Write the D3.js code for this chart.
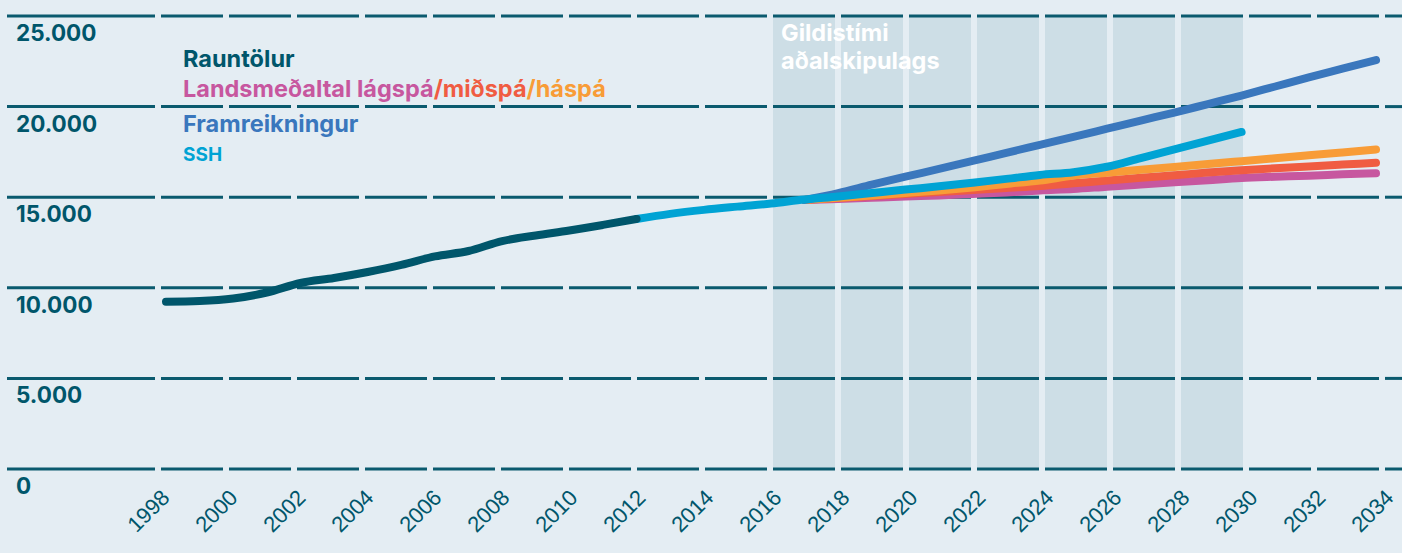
<!DOCTYPE html>
<html>
<head>
<meta charset="utf-8">
<script src="https://cdn.jsdelivr.net/npm/d3@7"></script>
<style>
  body { margin: 0; background: #e4edf3; }
  svg { display: block; }
</style>
</head>
<body>
<div id="container"></div>
<script>
/* CONSTANTS AND GLOBALS */
const width = 1402;
const height = 553;

// Rauntölur (actual figures)
const rauntolurYears = [1998, 1999, 2000, 2001, 2002, 2003, 2004, 2005, 2006, 2007, 2008, 2009, 2010, 2011, 2012];
const rauntolur = [9230, 9270, 9410, 9740, 10265, 10540, 10870, 11260, 11730, 12030, 12580, 12890, 13160, 13470, 13800];

// SSH
const sshYears = [2012, 2013, 2014, 2015, 2016, 2017, 2018, 2019, 2020, 2021, 2022, 2023, 2024, 2025, 2026, 2027, 2028, 2029, 2030];
const ssh = [13800, 14080, 14300, 14480, 14650, 14870, 15040, 15230, 15420, 15600, 15800, 16010, 16230, 16380, 16680, 17160, 17640, 18120, 18600];

// projections
const projYears = [2017, 2018, 2019, 2020, 2021, 2022, 2023, 2024, 2025, 2026, 2027, 2028, 2029, 2030, 2031, 2032, 2033, 2034];
const framreikningur = [14850, 15230, 15690, 16130, 16560, 17000, 17450, 17890, 18330, 18780, 19230, 19670, 20140, 20610, 21110, 21610, 22090, 22570];
const haspa = [14850, 14970, 15100, 15230, 15370, 15540, 15730, 15920, 16190, 16350, 16510, 16670, 16830, 16990, 17150, 17310, 17470, 17630];
const midspa = [14850, 14960, 15070, 15180, 15290, 15400, 15510, 15620, 15770, 15920, 16070, 16210, 16360, 16490, 16600, 16700, 16800, 16900];
const lagspa = [14850, 14900, 14970, 15040, 15100, 15180, 15260, 15370, 15450, 15580, 15700, 15820, 15940, 16060, 16130, 16190, 16260, 16320];

const yTicks = [0, 5000, 10000, 15000, 20000, 25000];
const xTicks = [1998, 2000, 2002, 2004, 2006, 2008, 2010, 2012, 2014, 2016, 2018, 2020, 2022, 2024, 2026, 2028, 2030, 2032, 2034];
const shadeStarts = [2016, 2018, 2020, 2022, 2024, 2026, 2028];

const teal = "#0a5a6e";
const fontBold = "Inter, 'Liberation Sans', sans-serif";

const locale = d3.formatLocale({ decimal: ",", thousands: ".", grouping: [3], currency: ["", ""] });
const fmt = locale.format(",");

const svg = d3.select("#container")
  .append("svg")
  .attr("width", width)
  .attr("height", height);

svg.append("rect")
  .attr("width", width)
  .attr("height", height)
  .attr("fill", "#e4edf3");

// SCALES
const x = d3.scaleLinear().domain([1998, 2034]).range([166, 1376]);
const xg = d3.scaleLinear().domain([1998, 2034]).range([158, 1382]);   // grid / tick positions
const y = d3.scaleLinear().domain([0, 25000]).range([469, 16]);

// shaded period of the master plan
svg.append("g")
  .selectAll("rect")
  .data(shadeStarts)
  .join("rect")
  .attr("x", d => xg(d) + 3)
  .attr("width", d => xg(d + 2) - xg(d) - 6)
  .attr("y", y(25000))
  .attr("height", y(0) - y(25000))
  .attr("fill", "#cddee6");

// dashed gridlines, gaps at every tick
const bounds = [7].concat(xTicks.map(xg)).concat([width + 3]);
const segs = [];
yTicks.forEach(t => {
  for (let i = 0; i < bounds.length - 1; i++) {
    segs.push({ t: t, x1: i === 0 ? bounds[0] : bounds[i] + 3, x2: bounds[i + 1] - 3 });
  }
});
svg.append("g")
  .selectAll("line")
  .data(segs)
  .join("line")
  .attr("x1", d => d.x1)
  .attr("x2", d => d.x2)
  .attr("y1", d => y(d.t))
  .attr("y2", d => y(d.t))
  .attr("stroke", teal)
  .attr("stroke-width", 3);

// y labels
svg.append("g")
  .selectAll("text")
  .data(yTicks)
  .join("text")
  .attr("x", 16)
  .attr("y", d => y(d) + 25)
  .attr("font-family", fontBold)
  .attr("font-weight", 700)
  .attr("font-size", 22.5)
  .attr("fill", "#00566b")
  .text(d => fmt(d));

// x labels
svg.append("g")
  .selectAll("text")
  .data(xTicks)
  .join("text")
  .attr("transform", d => `translate(${xg(d) + 13},${499}) rotate(-45)`)
  .attr("text-anchor", "end")
  .attr("font-family", "'Liberation Sans', Arial, sans-serif")
  .attr("font-size", 22)
  .attr("fill", "#00566b")
  .text(d => d);

// LINES
const line = d3.line()
  .x(d => x(d[0]))
  .y(d => y(d[1]))
  .curve(d3.curveMonotoneX);

const series = [
  { years: projYears, values: lagspa, color: "#c7579f" },
  { years: projYears, values: midspa, color: "#f05c42" },
  { years: projYears, values: haspa, color: "#f89c37" },
  { years: projYears, values: framreikningur, color: "#3a77bd" },
  { years: sshYears, values: ssh, color: "#00a3d4" },
  { years: rauntolurYears, values: rauntolur, color: "#00566b" }
];

svg.append("g")
  .selectAll("path")
  .data(series)
  .join("path")
  .attr("d", s => line(s.years.map((yr, i) => [yr, s.values[i]])))
  .attr("fill", "none")
  .attr("stroke", s => s.color)
  .attr("stroke-width", 8)
  .attr("stroke-linecap", "round")
  .attr("stroke-linejoin", "round");

// period label
const period = svg.append("text")
  .attr("font-family", fontBold)
  .attr("font-weight", 700)
  .attr("font-size", 23.5)
  .attr("fill", "#ffffff");
period.append("tspan").attr("x", 781).attr("y", 41).text("Gildistími");
period.append("tspan").attr("x", 781).attr("y", 69).text("aðalskipulags");

// LEGEND
const legend = svg.append("g")
  .attr("font-family", fontBold)
  .attr("font-weight", 700)
  .attr("font-size", 23.5);

legend.append("text").attr("x", 183).attr("y", 67).attr("fill", "#00566b").text("Rauntölur");

const l2 = legend.append("text").attr("x", 183).attr("y", 97);
l2.append("tspan").attr("fill", "#c7579f").text("Landsmeðaltal lágspá");
l2.append("tspan").attr("fill", "#f05c42").text("/miðspá");
l2.append("tspan").attr("fill", "#f89c37").text("/háspá");

legend.append("text").attr("x", 183).attr("y", 132).attr("fill", "#3a77bd").text("Framreikningur");
legend.append("text").attr("x", 183).attr("y", 161).attr("fill", "#00a3d4").attr("font-size", 19).text("SSH");
</script>
</body>
</html>
